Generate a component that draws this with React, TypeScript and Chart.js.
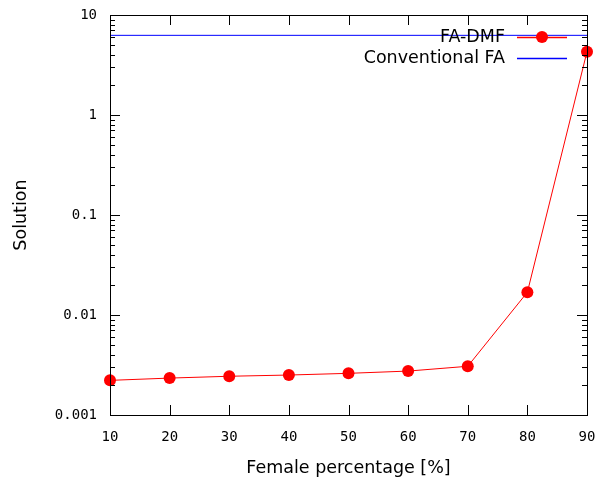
import React, { useEffect, useRef } from "react";
import { Chart, registerables } from "chart.js";

Chart.register(...registerables);

const femalePct = [10, 20, 30, 40, 50, 60, 70, 80, 90];
const faDmf = [0.00222, 0.00234, 0.00244, 0.00251, 0.00261, 0.00275, 0.00307, 0.0169, 4.3];
const convX = [10, 90];
const convY = [6.26, 6.26];
const xTicks = [10, 20, 30, 40, 50, 60, 70, 80, 90];
const yTicks = [0.001, 0.01, 0.1, 1, 10];
const yTickLabels = ["0.001", "0.01", "0.1", "1", "10"];

const MONO = "'DejaVu Sans Mono', monospace";
const SANS = "'DejaVu Sans', sans-serif";
const SANS_SIZE = 17.5;

const framePlugin = {
  id: "gnuframe",
  afterDraw(chart: any) {
    const ctx = chart.ctx;
    const { left, right, top, bottom } = chart.chartArea;
    const xs = chart.scales.x;
    const ys = chart.scales.y;
    ctx.save();
    ctx.strokeStyle = "#000";
    ctx.lineWidth = 1;
    ctx.beginPath();
    const major = 10;
    const minor = 5;
    xTicks.forEach((v) => {
      const px = Math.round(xs.getPixelForValue(v)) + 0.5;
      ctx.moveTo(px, bottom);
      ctx.lineTo(px, bottom - major);
      ctx.moveTo(px, top);
      ctx.lineTo(px, top + major);
    });
    yTicks.forEach((v, i) => {
      const py = Math.round(ys.getPixelForValue(v)) + 0.5;
      ctx.moveTo(left, py);
      ctx.lineTo(left + major, py);
      ctx.moveTo(right, py);
      ctx.lineTo(right - major, py);
      if (i < yTicks.length - 1) {
        for (let m = 2; m <= 9; m++) {
          const my = Math.round(ys.getPixelForValue(v * m)) + 0.5;
          ctx.moveTo(left, my);
          ctx.lineTo(left + minor, my);
          ctx.moveTo(right, my);
          ctx.lineTo(right - minor, my);
        }
      }
    });
    ctx.stroke();
    ctx.strokeRect(Math.round(left) + 0.5, Math.round(top) + 0.5, Math.round(right - left), Math.round(bottom - top));

    // legend
    const ds = chart.data.datasets;
    ctx.font = `${SANS_SIZE}px ${SANS}`;
    ctx.textAlign = "right";
    ctx.textBaseline = "middle";
    const textRight = right - 82;
    const x0 = right - 70;
    const x1 = right - 20;
    const rows = [top + 22, top + 43];
    ds.forEach((d: any, i: number) => {
      const y = rows[i];
      ctx.fillStyle = "#000";
      ctx.fillText(d.label, textRight, y);
      ctx.strokeStyle = d.borderColor;
      ctx.lineWidth = 1.5;
      ctx.beginPath();
      ctx.moveTo(x0, Math.round(y) + 0.5);
      ctx.lineTo(x1, Math.round(y) + 0.5);
      ctx.stroke();
      if (d.pointRadius > 0) {
        ctx.fillStyle = d.pointBackgroundColor;
        ctx.beginPath();
        ctx.arc((x0 + x1) / 2, y, d.pointRadius, 0, Math.PI * 2);
        ctx.fill();
      }
    });
    ctx.restore();
  },
};

export default function App() {
  const ref = useRef<HTMLCanvasElement | null>(null);
  useEffect(() => {
    if (!ref.current) return;
    const chart = new Chart(ref.current, {
      type: "line",
      data: {
        datasets: [
          {
            label: "FA-DMF",
            data: femalePct.map((x, i) => ({ x, y: faDmf[i] })),
            borderColor: "#ff0000",
            backgroundColor: "#ff0000",
            pointBackgroundColor: "#ff0000",
            pointBorderColor: "#ff0000",
            pointRadius: 6,
            pointBorderWidth: 0,
            borderWidth: 1,
            clip: false,
          },
          {
            label: "Conventional FA",
            data: convX.map((x, i) => ({ x, y: convY[i] })),
            borderColor: "#0000ff",
            backgroundColor: "#0000ff",
            pointRadius: 0,
            borderWidth: 1,
          },
        ],
      },
      options: {
        animation: false,
        responsive: true,
        maintainAspectRatio: false,
        layout: { padding: { top: 15, right: 19, left: 0, bottom: 0 } },
        plugins: { legend: { display: false }, tooltip: { enabled: false } },
        scales: {
          x: {
            type: "linear",
            min: 10,
            max: 90,
            grid: { display: false, drawTicks: false },
            border: { display: false },
            afterBuildTicks: (s: any) => {
              s.ticks = xTicks.map((v) => ({ value: v }));
            },
            afterFit: (s: any) => {
              s.height = 69;
              s.paddingLeft = 0;
              s.paddingRight = 0;
            },
            ticks: {
              autoSkip: false,
              maxRotation: 0,
              padding: 14,
              color: "#000",
              font: { family: MONO, size: 14 },
              callback: (v: any) => String(v),
            },
            title: {
              display: true,
              text: "Female percentage [%]",
              color: "#000",
              font: { family: SANS, size: SANS_SIZE },
              padding: { top: 0, bottom: 5.5 },
            },
          },
          y: {
            type: "logarithmic",
            min: 0.001,
            max: 10,
            grid: { display: false, drawTicks: false },
            border: { display: false },
            afterBuildTicks: (s: any) => {
              s.ticks = yTicks.map((v) => ({ value: v }));
            },
            afterFit: (s: any) => {
              s.width = 110;
              s.paddingTop = 0;
              s.paddingBottom = 0;
            },
            ticks: {
              autoSkip: false,
              padding: 13,
              color: "#000",
              font: { family: MONO, size: 14 },
              callback: (v: any) => {
                const i = yTicks.indexOf(Number(v));
                return i >= 0 ? yTickLabels[i] : "";
              },
            },
            title: {
              display: true,
              text: "Solution",
              color: "#000",
              font: { family: SANS, size: SANS_SIZE },
              padding: { top: 10.5, bottom: 0 },
            },
          },
        },
      },
      plugins: [framePlugin],
    } as any);
    return () => chart.destroy();
  }, []);
  return (
    <div style={{ position: "fixed", left: 0, top: 0, width: 606, height: 484, background: "#fff" }}>
      <canvas ref={ref} />
    </div>
  );
}
